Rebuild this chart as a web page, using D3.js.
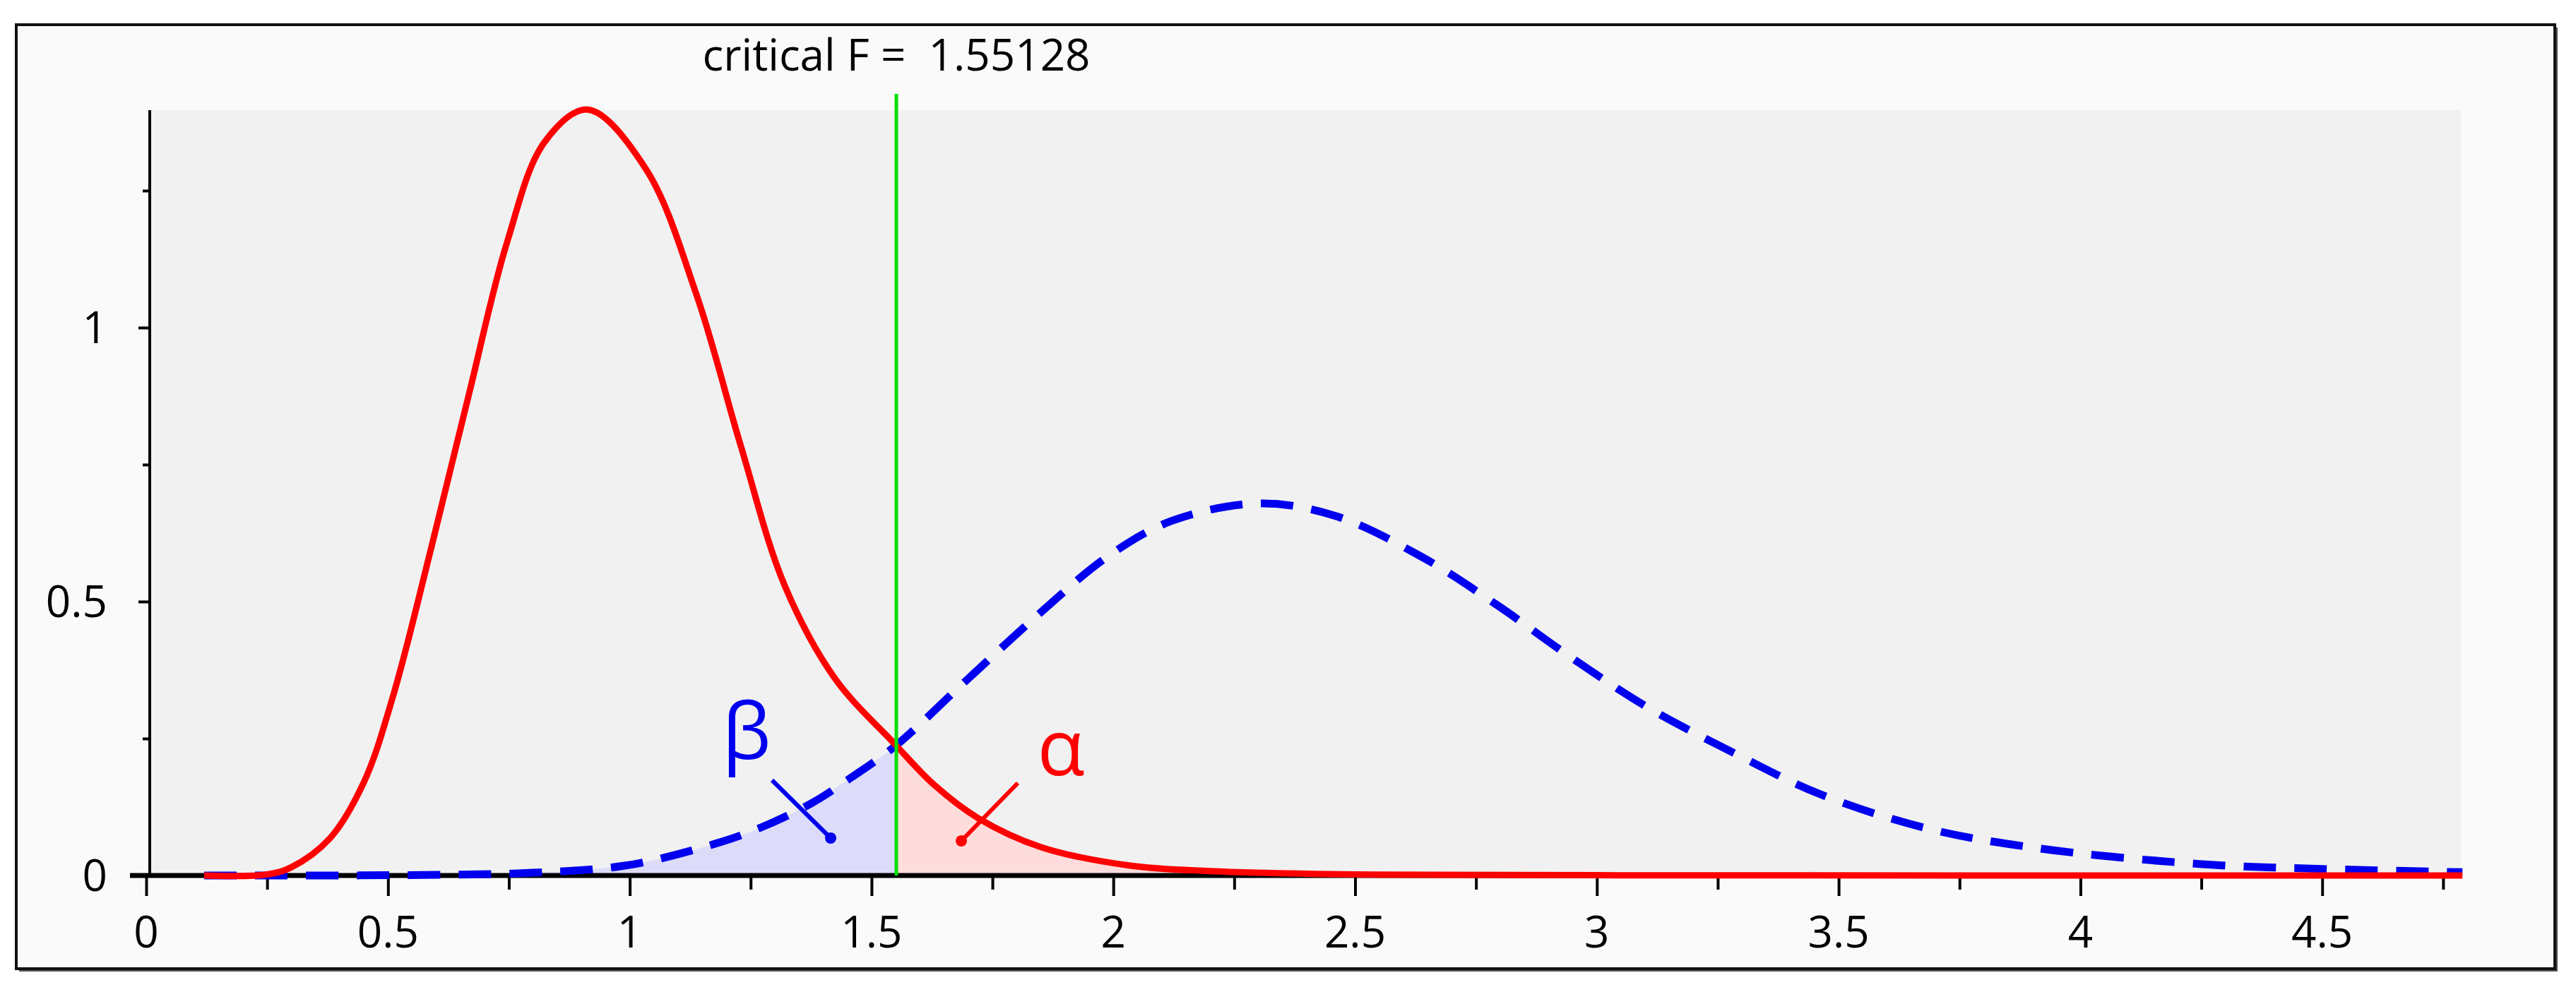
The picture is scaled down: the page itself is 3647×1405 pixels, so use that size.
<!DOCTYPE html>
<html>
<head>
<meta charset="utf-8">
<script src="https://cdn.jsdelivr.net/npm/d3@7"></script>
<style>
  body { margin: 0; background: #fff; }
  svg text { font-family: "Open Sans", "DejaVu Sans", sans-serif; }
</style>
</head>
<body>
<svg id="chart" width="3647" height="1405"></svg>
<script>
// values
const criticalF = 1.55128;
const redX = [0.12, 0.25, 0.3, 0.38, 0.45, 0.51, 0.59, 0.667, 0.746, 0.824, 0.913, 1.033, 1.138, 1.229, 1.32, 1.424, 1.548, 1.63, 1.72, 1.85, 2.035, 2.2, 2.5, 3.0, 4.79];
const redY = [0, 0.002, 0.015, 0.068, 0.17, 0.326, 0.60, 0.877, 1.155, 1.339, 1.398, 1.29, 1.06, 0.786, 0.53, 0.36, 0.24, 0.165, 0.105, 0.052, 0.018, 0.008, 0.002, 0.0005, 0];
const blueX = [0.12, 0.5, 0.8, 0.99, 1.125, 1.25, 1.372, 1.46, 1.55, 1.696, 1.842, 1.988, 2.12, 2.30, 2.457, 2.637, 2.793, 2.95, 3.105, 3.285, 3.463, 3.687, 3.91, 4.246, 4.5, 4.79];
const blueY = [0, 0.0005, 0.005, 0.018, 0.045, 0.08, 0.13, 0.18, 0.237, 0.356, 0.474, 0.582, 0.647, 0.679, 0.657, 0.582, 0.494, 0.396, 0.307, 0.223, 0.148, 0.085, 0.05, 0.021, 0.012, 0.006];
const xTicks = [0, 0.5, 1, 1.5, 2, 2.5, 3, 3.5, 4, 4.5];
const yTicks = [0, 0.5, 1];

const svg = d3.select("#chart");
const plot = {left: 212, right: 3484, top: 156, bottom: 1240};

const x = d3.scaleLinear().domain([0, 4.79]).range([207, 207 + 4.79 * 684.6]);
const y = d3.scaleLinear().domain([0, 1.4]).range([plot.bottom, plot.bottom - 1.4 * 776]);

const red = redX.map((v, i) => ({x: v, y: redY[i]}));
const blue = blueX.map((v, i) => ({x: v, y: blueY[i]}));

// frame
svg.append("rect").attr("x", 27).attr("y", 39).attr("width", 3594).attr("height", 1337).attr("fill", "#555");
svg.append("rect").attr("x", 23).attr("y", 35).attr("width", 3594).attr("height", 1337)
  .attr("fill", "#fafafa").attr("stroke", "#111").attr("stroke-width", 4);
svg.append("rect").attr("x", plot.left).attr("y", plot.top)
  .attr("width", plot.right - plot.left).attr("height", plot.bottom - plot.top).attr("fill", "#f1f1f1");

const curve = d3.curveCatmullRom.alpha(0.5);
const area = d3.area().x(d => x(d.x)).y0(y(0)).y1(d => y(Math.max(0, d.y))).curve(curve);
const line = d3.line().x(d => x(d.x)).y(d => y(d.y)).curve(curve);

// shaded tails
svg.append("clipPath").attr("id", "leftc").append("rect")
  .attr("x", 0).attr("y", 0).attr("width", x(criticalF)).attr("height", 1405);
svg.append("clipPath").attr("id", "rightc").append("rect")
  .attr("x", x(criticalF)).attr("y", 0).attr("width", 3647).attr("height", 1405);
svg.append("path").datum(blue).attr("d", area).attr("fill", "#dcdcfa").attr("clip-path", "url(#leftc)");
svg.append("path").datum(red).attr("d", area).attr("fill", "#ffdcdc").attr("clip-path", "url(#rightc)");

// axes
const xAxis = svg.append("g").attr("transform", `translate(0,${plot.bottom})`)
  .call(d3.axisBottom(x).tickValues(d3.range(0, 4.8, 0.25)).tickSize(20).tickFormat(""));
xAxis.select(".domain").remove();
xAxis.selectAll(".tick line").attr("stroke-width", 4)
  .attr("y2", d => Math.abs(d * 2 - Math.round(d * 2)) < 1e-6 ? 29 : 20);
svg.append("line").attr("x1", 184).attr("x2", plot.right).attr("y1", plot.bottom).attr("y2", plot.bottom)
  .attr("stroke", "#000").attr("stroke-width", 7);
svg.append("g").selectAll("text").data(xTicks).join("text")
  .attr("x", d => x(d)).attr("y", 1342).attr("text-anchor", "middle")
  .attr("font-size", 62).text(d => d);

const yAxis = svg.append("g").attr("transform", `translate(${plot.left},0)`)
  .call(d3.axisLeft(y).tickValues(d3.range(0, 1.4, 0.25)).tickSize(10).tickFormat(""));
yAxis.select(".domain").attr("d", `M0,${plot.bottom}V${plot.top}`).attr("stroke-width", 4);
yAxis.selectAll(".tick line").attr("stroke-width", 4)
  .attr("x2", d => Math.abs(d * 2 - Math.round(d * 2)) < 1e-6 ? -16 : -10);
svg.append("g").selectAll("text").data(yTicks).join("text")
  .attr("x", 152).attr("y", d => y(d) + 22).attr("text-anchor", "end")
  .attr("font-size", 62).text(d => d);

// curves
svg.append("path").datum(blue).attr("d", line).attr("fill", "none")
  .attr("stroke", "#0000ee").attr("stroke-width", 11).attr("stroke-dasharray", "46 26");
svg.append("path").datum(red).attr("d", line).attr("fill", "none")
  .attr("stroke", "#ff0000").attr("stroke-width", 9);

// critical value
svg.append("line").attr("x1", x(criticalF)).attr("x2", x(criticalF)).attr("y1", 133).attr("y2", plot.bottom)
  .attr("stroke", "#00e000").attr("stroke-width", 5);
svg.append("text").attr("x", x(criticalF)).attr("y", 100).attr("text-anchor", "middle")
  .attr("font-size", 62).text("critical F = \u00a01.55128");

// alpha / beta labels
svg.append("line").attr("x1", 1093).attr("y1", 1105).attr("x2", 1176).attr("y2", 1187)
  .attr("stroke", "#0000ee").attr("stroke-width", 6);
svg.append("circle").attr("cx", 1176).attr("cy", 1187).attr("r", 8).attr("fill", "#0000ee");
svg.append("text").attr("x", 1057).attr("y", 1075).attr("text-anchor", "middle")
  .attr("font-size", 110).attr("fill", "#0000ee").text("β");
svg.append("line").attr("x1", 1441).attr("y1", 1109).attr("x2", 1361).attr("y2", 1191)
  .attr("stroke", "#ff0000").attr("stroke-width", 6);
svg.append("circle").attr("cx", 1361).attr("cy", 1191).attr("r", 8).attr("fill", "#ff0000");
svg.append("text").attr("x", 1502).attr("y", 1098).attr("text-anchor", "middle")
  .attr("font-size", 110).attr("fill", "#ff0000").text("α");
</script>
</body>
</html>
